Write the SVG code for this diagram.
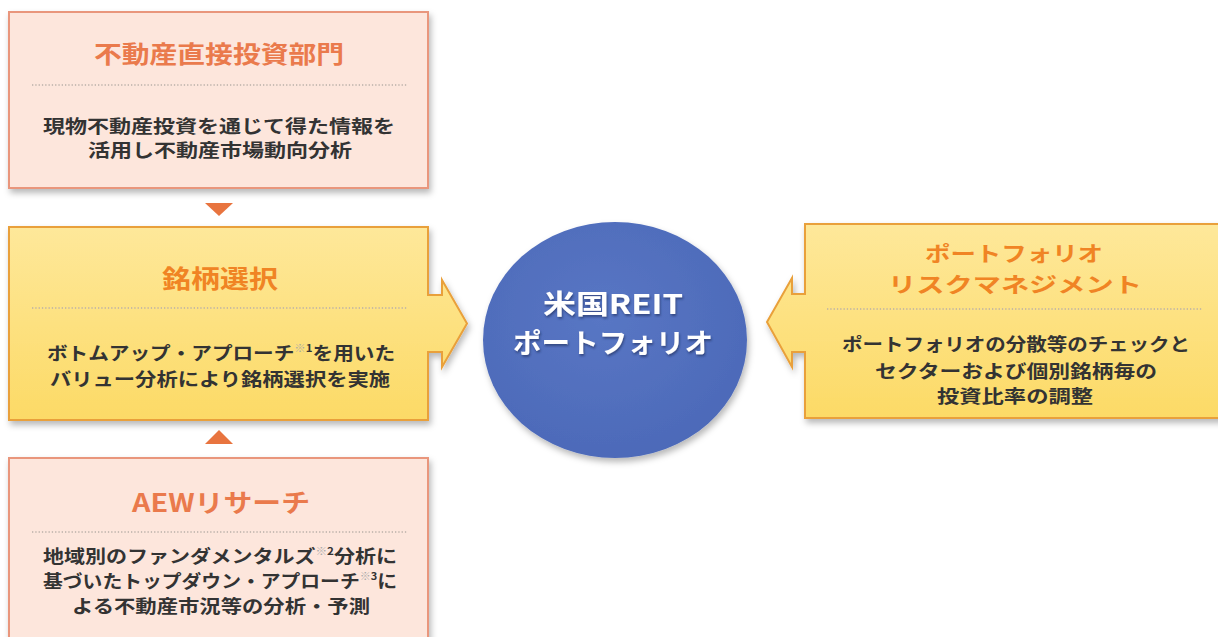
<svg xmlns="http://www.w3.org/2000/svg" width="1218" height="637" viewBox="0 0 1218 637">
<defs>
<filter id="sh" x="-10%" y="-10%" width="125%" height="130%">
<feDropShadow dx="2" dy="4" stdDeviation="3" flood-color="#000" flood-opacity="0.28"/>
</filter>
<filter id="tsh" x="-10%" y="-20%" width="120%" height="150%">
<feDropShadow dx="1" dy="2" stdDeviation="1.2" flood-color="#1a2a5a" flood-opacity="0.6"/>
</filter>
<linearGradient id="yel" x1="0" y1="0" x2="0" y2="1">
<stop offset="0" stop-color="#fee89a"/>
<stop offset="1" stop-color="#fcda66"/>
</linearGradient>
<radialGradient id="blu" cx="0.45" cy="0.4" r="0.65">
<stop offset="0" stop-color="#5876c4"/>
<stop offset="1" stop-color="#4c69b8"/>
</radialGradient>
</defs>
<style>
text{font-family:"Noto Sans CJK JP","Noto Sans",sans-serif;font-weight:700;text-anchor:middle;dominant-baseline:central}
.pink{fill:#fde6dc;stroke:#e9967c;stroke-width:2}
.yel{fill:url(#yel);stroke:#e9a03a;stroke-width:2}
.dot{stroke:#b9b0a8;stroke-width:1.3;stroke-dasharray:1.3 2}
.tp{fill:#ea7a4c;font-size:24px}
.ty{fill:#f08424;font-size:25px}
.b{fill:#333;font-size:18px}
.sup{font-size:10px}
.tri{fill:#e8743f}
.ct{fill:#fff;font-size:27px}
</style>

<g id="connectors">
<polygon class="tri" points="205,203 233,203 219,216"/>
<polygon class="tri" points="205,444 233,444 219,430"/>
</g>

<g id="node-direct">
<rect class="pink" x="9" y="12" width="419" height="176" filter="url(#sh)"/>
<text class="tp" x="219" y="52" textLength="250" lengthAdjust="spacingAndGlyphs">不動産直接投資部門</text>
<line class="dot" x1="32" y1="85" x2="408" y2="85"/>
<text class="b" x="219" y="125" textLength="352" lengthAdjust="spacingAndGlyphs">現物不動産投資を通じて得た情報を</text>
<text class="b" x="220" y="149" textLength="264" lengthAdjust="spacingAndGlyphs">活用し不動産市場動向分析</text>
</g>

<g id="node-selection">
<path class="yel" d="M9,227 H428 V295 H442 V280 L467,323.5 L442,367 V352 H428 V420 H9 Z" filter="url(#sh)"/>
<text class="ty" x="220" y="277" textLength="116" lengthAdjust="spacingAndGlyphs">銘柄選択</text>
<line class="dot" x1="32" y1="308" x2="407" y2="308"/>
<text class="b" x="221" y="352" textLength="348" lengthAdjust="spacingAndGlyphs">ボトムアップ・アプローチ<tspan class="sup" dy="-5" fill="#a9a9a9">※</tspan><tspan class="sup">1</tspan><tspan dy="5">を用いた</tspan></text>
<text class="b" x="220" y="378" textLength="340" lengthAdjust="spacingAndGlyphs">バリュー分析により銘柄選択を実施</text>
</g>

<g id="node-aew">
<rect class="pink" x="9" y="458" width="419" height="190" filter="url(#sh)"/>
<text class="tp" x="221" y="501" textLength="178" lengthAdjust="spacingAndGlyphs" style="font-size:25px">AEWリサーチ</text>
<line class="dot" x1="32" y1="532" x2="408" y2="532"/>
<text class="b" x="220" y="555" textLength="354" lengthAdjust="spacingAndGlyphs">地域別のファンダメンタルズ<tspan class="sup" dy="-5" fill="#a9a9a9">※</tspan><tspan class="sup">2</tspan><tspan dy="5">分析に</tspan></text>
<text class="b" x="220" y="580" textLength="354" lengthAdjust="spacingAndGlyphs">基づいたトップダウン・アプローチ<tspan class="sup" dy="-5" fill="#a9a9a9">※</tspan><tspan class="sup">3</tspan><tspan dy="5">に</tspan></text>
<text class="b" x="221" y="605" textLength="298" lengthAdjust="spacingAndGlyphs">よる不動産市況等の分析・予測</text>
</g>

<g id="node-portfolio">
<ellipse cx="615" cy="340" rx="132" ry="118" fill="url(#blu)" filter="url(#sh)"/>
<text class="ct" x="613" y="302" textLength="140" lengthAdjust="spacingAndGlyphs" filter="url(#tsh)">米国REIT</text>
<text class="ct" x="613" y="341" textLength="200" lengthAdjust="spacingAndGlyphs" filter="url(#tsh)">ポートフォリオ</text>
</g>

<g id="node-risk">
<path class="yel" d="M805,224 H1226 V418 H805 V352 H792 V367 L767,322 L792,278 V294 H805 Z" filter="url(#sh)"/>
<text class="ty" x="1014" y="252" textLength="178" lengthAdjust="spacingAndGlyphs" style="font-size:21px">ポートフォリオ</text>
<text class="ty" x="1015" y="283" textLength="254" lengthAdjust="spacingAndGlyphs" style="font-size:21px">リスクマネジメント</text>
<line class="dot" x1="827" y1="309" x2="1202" y2="309"/>
<text class="b" x="1016" y="343" textLength="348" lengthAdjust="spacingAndGlyphs">ポートフォリオの分散等のチェックと</text>
<text class="b" x="1016" y="370" textLength="282" lengthAdjust="spacingAndGlyphs">セクターおよび個別銘柄毎の</text>
<text class="b" x="1015" y="395" textLength="156" lengthAdjust="spacingAndGlyphs">投資比率の調整</text>
</g>
</svg>
